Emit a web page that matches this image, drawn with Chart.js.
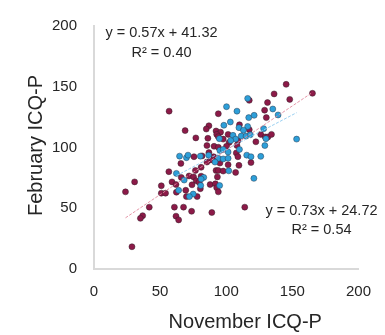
<!DOCTYPE html>
<html><head><meta charset="utf-8">
<script src="https://cdn.jsdelivr.net/npm/chart.js@4.4.1/dist/chart.umd.min.js"></script>
<style>html,body{margin:0;padding:0;background:#fff}#wrap{width:385px;height:335px;position:relative}</style>
</head><body><div id="wrap"><canvas id="c"></canvas></div>
<script>
// ---- data ----
const axisTicks = [0, 50, 100, 150, 200];
const xTitle = 'November ICQ-P';
const yTitle = 'February ICQ-P';

// maroon series
const novMaroon = [56.6,66.0,30.7,59.0,62.0,50.9,23.8,50.9,54.1,62.3,69.4,69.9,41.8,60.8,67.7,62.0,64.0,36.8,35.1,28.7,
  56.8,68.9,65.7,
  117.4,94.0,86.9,110.0,84.9,92.3,95.7,117.4,77.0,92.8,94.0,101.4,97.7,102.2,108.8,86.1,90.8,94.0,85.4,100.2,108.1,107.6,108.8,86.9,81.7,90.4,88.4,75.6,85.4,95.2,118.7,
  145.3,136.2,165.2,148.0,131.2,129.0,130.3,126.1,129.5,131.5,134.2,122.4,
  81.0,76.7,92.3,94.0,97.7,107.1,71.9,75.3,81.0,93.3,77.3,79.5,74.1,87.8,91.8,92.8,80.4,94.0,78.0,114.0,73.8,89.1,
  109.6,101.4];
const febMaroon = [80.1,75.4,71.7,71.7,69.5,68.5,63.5,62.4,62.4,63.2,64.8,59.6,50.9,50.9,50.9,43.5,40.4,43.9,41.7,18.3,
  129.9,113.9,86.9,
  138.8,127.8,117.9,118.7,115.2,113.6,112.6,114.7,107.9,110.8,108.9,110.8,106.9,104.2,105.5,107.6,101.0,100.2,101.6,101.0,101.6,95.5,92.4,95.8,93.1,92.4,89.8,92.4,88.0,87.2,87.6,
  152.0,144.1,144.6,139.6,137.0,130.7,124.6,110.8,108.7,108.7,110.8,104.7,
  83.7,81.1,81.1,81.1,80.6,79.5,76.6,75.8,76.4,75.8,72.7,71.4,69.3,69.5,70.1,66.9,66.1,63.5,59.6,50.9,47.5,46.5,
  85.3,85.8];

// blue series
const novBlue = [62.3,68.2,64.0,64.7,69.9,
  116.2,100.2,108.1,121.1,117.0,103.1,98.2,116.2,109.6,113.0,105.1,111.3,115.0,118.2,94.8,107.1,103.4,95.2,97.7,101.4,110.0,115.5,118.7,86.7,80.4,94.0,97.7,101.4,71.1,91.5,
  135.2,139.2,128.3,130.0,153.2,129.2,126.1,
  101.9,83.0,81.0,80.7,95.0,75.0,72.1,120.9];
const febBlue = [78.7,73.2,64.8,92.9,91.6,
  140.4,133.6,129.9,126.5,124.6,121.0,118.3,117.3,116.3,114.2,110.0,109.4,109.4,110.5,107.3,106.9,105.7,97.6,98.4,96.3,98.4,93.7,92.4,93.7,92.9,91.1,90.6,91.1,93.7,88.0,
  131.7,126.8,115.5,107.3,106.9,101.6,92.7,
  80.8,75.4,74.0,68.7,68.7,61.7,59.6,74.6];

// linear fits shown in the figure: [maroon, blue]
const fitSlopes = [0.73, 0.57];
const fitIntercepts = [24.72, 41.32];
const fitR2 = ['0.54', '0.40'];

// ---- build ----
const toPts = (xs, ys) => xs.map((x, i) => ({x, y: ys[i]}));
const fitLine = (xs, k) => {
  const lo = Math.min(...xs), hi = Math.max(...xs);
  return [lo, hi].map(x => ({x, y: fitSlopes[k] * x + fitIntercepts[k]}));
};
const eqText = k => 'y = ' + fitSlopes[k].toFixed(2) + 'x + ' + fitIntercepts[k].toFixed(2);

const FONT = "'Liberation Sans', Arial, sans-serif";

const textPlugin = {
  id: 'textPlugin',
  afterDraw(chart) {
    const ctx = chart.ctx, a = chart.chartArea;
    ctx.save();
    ctx.fillStyle = '#262626';
    ctx.textAlign = 'center';
    ctx.textBaseline = 'middle';
    // axis titles
    ctx.font = '20px ' + FONT;
    ctx.fillText(xTitle, (a.left + a.right) / 2 + 19, 322);
    ctx.save();
    ctx.translate(36, (a.top + a.bottom) / 2 - 2);
    ctx.rotate(-Math.PI / 2);
    ctx.fillText(yTitle, 0, 0);
    ctx.restore();
    // equations
    ctx.font = '14.5px ' + FONT;
    ctx.fillText(eqText(1), 161.5, 33);
    ctx.fillText('R\u00B2 = ' + fitR2[1], 161.5, 53);
    ctx.fillText(eqText(0), 321.5, 211);
    ctx.fillText('R\u00B2 = ' + fitR2[0], 321.5, 230);
    ctx.restore();
  }
};

const scaleCommon = {
  type: 'linear', min: 0, max: 200,
  grid: {display: false, drawTicks: false},
  border: {display: true, color: '#d9d9d9', width: 2},
  afterBuildTicks: s => { s.ticks = axisTicks.map(v => ({value: v})); }
};

new Chart(document.getElementById('c'), {
  type: 'scatter',
  data: {
    datasets: [
      {label: 'maroon fit', data: fitLine(novMaroon, 0), showLine: true, pointRadius: 0,
       borderColor: 'rgba(226,140,160,0.9)', borderWidth: 1, borderDash: [3, 1.5], order: 0},
      {label: 'blue fit', data: fitLine(novBlue, 1), showLine: true, pointRadius: 0,
       borderColor: 'rgba(150,205,240,0.95)', borderWidth: 1, borderDash: [3, 1.5], order: 0},
      {label: 'blue', data: toPts(novBlue, febBlue), pointRadius: 3,
       backgroundColor: '#2d9fd9', borderColor: 'rgba(40,60,80,0.7)', borderWidth: 0.7, order: 1},
      {label: 'maroon', data: toPts(novMaroon, febMaroon), pointRadius: 3,
       backgroundColor: '#8c1a48', borderColor: 'rgba(50,30,40,0.7)', borderWidth: 0.7, order: 2}
    ]
  },
  options: {
    responsive: true, maintainAspectRatio: false, animation: false,
    layout: {padding: {top: 15, right: 20, left: 0, bottom: 0}},
    plugins: {legend: {display: false}, tooltip: {enabled: false}},
    scales: {
      x: Object.assign({}, scaleCommon, {
        position: 'bottom',
        ticks: {padding: 14, color: '#262626', font: {size: 15, family: FONT}},
        afterFit: s => { s.height = 66; }
      }),
      y: Object.assign({}, scaleCommon, {
        position: 'left',
        ticks: {padding: 17, color: '#262626', font: {size: 15, family: FONT}},
        afterFit: s => { s.width = 94; }
      })
    }
  },
  plugins: [textPlugin]
});
</script>
</body></html>
